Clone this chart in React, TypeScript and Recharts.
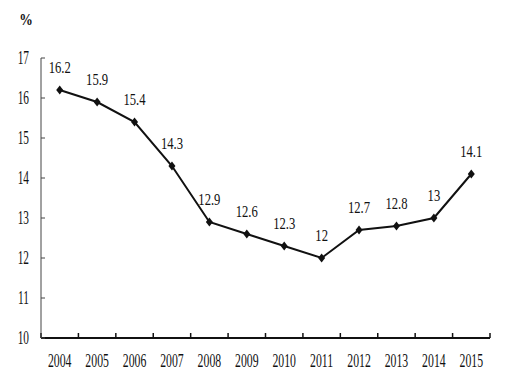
import React from 'react';
import { LineChart, Line, XAxis, YAxis, Customized } from 'recharts';

const years = ['2004', '2005', '2006', '2007', '2008', '2009', '2010', '2011', '2012', '2013', '2014', '2015'];
const values = [16.2, 15.9, 15.4, 14.3, 12.9, 12.6, 12.3, 12, 12.7, 12.8, 13, 14.1];
const yTicks = [10, 11, 12, 13, 14, 15, 16, 17];
const xBoundaries = [0, 1, 2, 3, 4, 5, 6, 7, 8, 9, 10, 11, 12];
const unitLabel = '%';

const data = years.map((year, i) => ({ year, pos: i + 0.5, value: values[i] }));

const W = 511;
const H = 384;
const MARGIN = { top: 58, right: 21, bottom: 0, left: 0 };
const Y_AXIS_W = 41;
const X_AXIS_H = 46;
const PLOT_W = W - MARGIN.left - MARGIN.right - Y_AXIS_W;
const BAND = PLOT_W / years.length;
const FONT = '"Liberation Serif", "Times New Roman", serif';
const INK = '#111';

const XTick = (props: any) => {
  const { x, y, payload } = props;
  const i = payload.value;
  if (i >= years.length) return <g />;
  return (
    <text
      transform={`translate(${x + BAND / 2},${y + 29}) scale(0.62,1)`}
      textAnchor="middle"
      fontFamily={FONT}
      fontSize={19}
      fill={INK}
    >
      {years[i]}
    </text>
  );
};

const YTick = (props: any) => {
  const { y, payload } = props;
  return (
    <text
      transform={`translate(29,${y + 6}) scale(0.63,1)`}
      textAnchor="end"
      fontFamily={FONT}
      fontSize={18}
      fill={INK}
    >
      {payload.value}
    </text>
  );
};

const Diamond = (props: any) => {
  const { cx, cy } = props;
  if (cx == null || cy == null) return <g />;
  return (
    <polygon
      points={`${cx},${cy - 4.5} ${cx + 3.5},${cy} ${cx},${cy + 4.5} ${cx - 3.5},${cy}`}
      fill={INK}
    />
  );
};

const ValueLabel = (props: any) => {
  const { x, y, value } = props;
  return (
    <text
      transform={`translate(${x},${y - 17.5}) scale(0.79,1)`}
      textAnchor="middle"
      fontFamily={FONT}
      fontSize={16}
      fill={INK}
    >
      {value}
    </text>
  );
};

const PercentLabel = () => (
  <text
    transform="translate(26,25) scale(0.8,1)"
    textAnchor="middle"
    fontFamily={FONT}
    fontSize={17}
    fontWeight="bold"
    fill={INK}
  >
    {unitLabel}
  </text>
);

export default function App() {
  return (
    <div style={{ position: 'absolute', left: 0, top: 0, width: W, height: H, background: '#fff' }}>
      <LineChart width={W} height={H} data={data} margin={MARGIN}>
        <XAxis
          dataKey="pos"
          type="number"
          domain={[0, 12]}
          ticks={xBoundaries}
          interval={0}
          height={X_AXIS_H}
          tickSize={-5}
          tickMargin={5}
          tick={<XTick />}
          axisLine={{ stroke: INK, strokeWidth: 2 }}
          tickLine={{ stroke: INK, strokeWidth: 1.5 }}
          allowDataOverflow
        />
        <YAxis
          type="number"
          domain={[10, 17]}
          ticks={yTicks}
          interval={0}
          width={Y_AXIS_W}
          tickSize={-4}
          tickMargin={0}
          tick={<YTick />}
          axisLine={{ stroke: '#444', strokeWidth: 1 }}
          tickLine={{ stroke: '#444', strokeWidth: 1 }}
          allowDataOverflow
        />
        <Line
          type="linear"
          dataKey="value"
          stroke={INK}
          strokeWidth={2}
          dot={<Diamond />}
          activeDot={false}
          label={<ValueLabel />}
          isAnimationActive={false}
        />
        <Customized component={PercentLabel} />
      </LineChart>
    </div>
  );
}
